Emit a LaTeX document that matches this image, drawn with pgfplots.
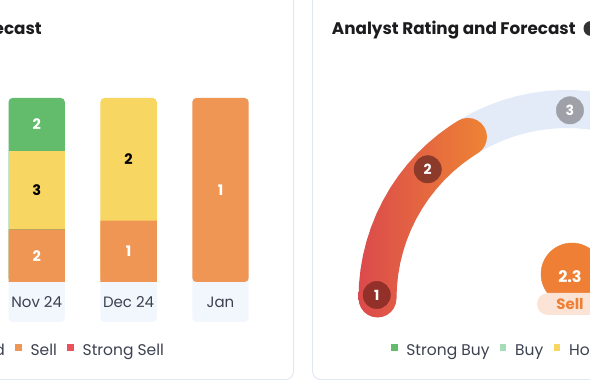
\documentclass[border=0pt]{standalone}
\usepackage{fontspec}
\setmainfont{Poppins}
\usepackage{pgfplots}
\pgfplotsset{compat=1.18}
\definecolor{cgreen}{HTML}{62BC6B}
\definecolor{clgreen}{HTML}{A6DDB7}
\definecolor{cyellow}{HTML}{F8D662}
\definecolor{corange}{HTML}{F09655}
\definecolor{cred}{HTML}{E9525A}
\definecolor{clabel}{HTML}{F2F6FD}
\definecolor{cborder}{HTML}{E1E8F4}
\definecolor{ctrack}{HTML}{E3EAF8}
\definecolor{cgA}{HTML}{DB4A4C}
\definecolor{cgB}{HTML}{EE8434}
\definecolor{cone}{HTML}{923029}
\definecolor{ctwo}{HTML}{8C3A2A}
\definecolor{cthree}{HTML}{9EA1A8}
\definecolor{cbig}{HTML}{EE7F35}
\definecolor{cpill}{HTML}{FBE4D5}
\definecolor{ctext}{HTML}{3C4150}
\definecolor{ctitle}{HTML}{1C1C1E}
\pgfplotsset{
  barax/.style={at={(-9.25pt,58pt)}, anchor=south west, scale only axis,
    width=275.7pt, height=224pt, xmin=-0.5, xmax=2.5, ymin=0, ymax=121.74, clip=false},
  mylegend/.style={legend columns=-1, legend cell align=left,
    legend image code/.code={\fill[##1, draw=none] (0pt,4.5pt) rectangle (6.7pt,11.2pt); \path (0pt,0pt) (15.3pt,0pt);},
    legend style={draw=none, fill=none, inner sep=0pt, outer sep=0pt,
      font=\fontsize{15.5}{18}\selectfont, text=ctext,
      nodes={inner sep=0pt, text height=11pt, text depth=4pt},
      cells={anchor=base west},
      /tikz/every even column/.append style={column sep=10pt}}},
  seglab/.style={only marks, mark=none, nodes near coords, point meta=explicit symbolic, forget plot,
    every node near coord/.append style={anchor=center, font=\bfseries\fontsize{14.5}{16}\selectfont}},
  gaugelab/.style={every node near coord/.append style={anchor=center, text=white, font=\bfseries\fontsize{14}{16}\selectfont}},
}
\begin{document}
\begin{tikzpicture}
\path[use as bounding box] (0pt,0pt) rectangle (590pt,380pt);
% panel frames
\draw[cborder, line width=1pt, rounded corners=8pt] (-60pt,0.4pt) rectangle (293.5pt,450pt);
\draw[cborder, line width=1pt, rounded corners=8pt] (312.7pt,0.4pt) rectangle (700pt,450pt);
% titles
\node[anchor=base east, inner sep=0pt, text=ctitle, font=\bfseries\fontsize{16.8}{20}\selectfont] at (42pt,345pt) {Rating Forecast};
\node[anchor=base west, inner sep=0pt, text=ctitle, font=\bfseries\fontsize{16.8}{20}\selectfont] at (331.7pt,345pt) {Analyst Rating and Forecast};
\fill[ctitle!90] (591pt,351.5pt) circle (7.5pt);

% ---- left chart: layer 1 (label boxes / rounded outline)
\begin{axis}[barax, hide axis]
\addplot[ybar, bar width=56.3pt, bar shift=0pt, fill=clabel, draw=none, rounded corners=4pt]
  coordinates {(0,121.74) (1,121.74) (2,121.74)};
\end{axis}
% layer 2: top segment colours, rounded
\begin{axis}[barax, hide axis, ybar stacked, bar width=56.3pt]
\addplot[draw=none, fill=none] coordinates {(0,21.74) (1,21.74) (2,21.74)};
\addplot[fill=cgreen, draw=none, rounded corners=4pt] coordinates {(0,100) (1,0) (2,0)};
\addplot[fill=cyellow, draw=none, rounded corners=4pt] coordinates {(0,0) (1,100) (2,0)};
\addplot[fill=corange, draw=none, rounded corners=4pt] coordinates {(0,0) (1,0) (2,100)};
\end{axis}
% layer 3: lower segments (percent of ratings: Sell, Hold)
\begin{axis}[barax, hide axis, ybar stacked, bar width=56.3pt]
\addplot[draw=none, fill=none] coordinates {(0,21.74) (1,21.74) (2,21.74)};
\addplot[fill=corange, draw=none] coordinates {(0,28.57) (1,33.33) (2,0)};
\addplot[fill=cyellow, draw=none] coordinates {(0,42.86) (1,0) (2,0)};
\end{axis}
% layer 4: counts, month labels, legend
\begin{axis}[barax, axis line style={draw=none}, tick style={draw=none}, ytick=\empty,
  xtick={0,1,2}, xticklabels={Nov 24,Dec 24,Jan},
  x tick label style={anchor=center, yshift=20pt, font=\fontsize{15}{18}\selectfont, text=ctext},
  mylegend, legend style={at={(0.6284,-0.1339)}, anchor=east}]
\addlegendimage{fill=cgreen}\addlegendentry{Strong Buy}
\addlegendimage{fill=clgreen}\addlegendentry{Buy}
\addlegendimage{fill=cyellow}\addlegendentry{Hold}
\addlegendimage{fill=corange}\addlegendentry{Sell}
\addlegendimage{fill=cred}\addlegendentry{Strong Sell}
\addplot[seglab, every node near coord/.append style={text=white}]
  coordinates {(0,36.03)[2] (0,107.46)[2] (1,38.41)[1] (2,71.74)[1]};
\addplot[seglab, every node near coord/.append style={text=black}]
  coordinates {(0,71.74)[3] (1,88.41)[2]};
\end{axis}

% ---- right: gauge
\begin{axis}[at={(347pt,41.5pt)}, anchor=south west, x=1pt, y=1pt,
  xmin=-220, xmax=220, ymin=-40, ymax=220, hide axis, clip=false,
  mylegend, legend style={at={(0.0993,-0.0519)}, anchor=west}]
\addlegendimage{fill=cgreen}\addlegendentry{Strong Buy}
\addlegendimage{fill=clgreen}\addlegendentry{Buy}
\addlegendimage{fill=cyellow}\addlegendentry{Hold}
\addlegendimage{fill=corange}\addlegendentry{Sell}
\addlegendimage{fill=cred}\addlegendentry{Strong Sell}
% track
\addplot[data cs=polar, ctrack, line width=38pt, line join=round, forget plot] coordinates {
(180,189.5) (176,189.5) (172,189.5) (168,189.5) (164,189.5) (160,189.5) (156,189.5) (152,189.5)
(148,189.5) (144,189.5) (140,189.5) (136,189.5) (132,189.5) (128,189.5) (124,189.5) (120,189.5)
(116,189.5) (112,189.5) (108,189.5) (104,189.5) (100,189.5) (96,189.5) (92,189.5) (88,189.5)
(84,189.5) (80,189.5) (76,189.5) (72,189.5) (68,189.5) (64,189.5) (60,189.5) (56,189.5)
(52,189.5) (48,189.5) (44,189.5) (40,189.5) (36,189.5) (32,189.5) (28,189.5) (24,189.5)
(20,189.5) (16,189.5) (12,189.5) (8,189.5) (4,189.5) (0,189.5)};
% rating band from 1 (180 deg) to 2.3 (121.5 deg) with round ends, shaded left to right
\addplot[data cs=polar, draw=none, left color=cgA, right color=cgB, forget plot] coordinates {
(180,208.5) (176,208.5) (172,208.5) (168,208.5) (164,208.5) (160,208.5) (156,208.5) (152,208.5)
(148,208.5) (144,208.5) (140,208.5) (136,208.5) (132,208.5) (128,208.5) (124,208.5) (121.5,208.5)
(120.14,207.91) (118.86,206.17) (117.71,203.37) (116.77,199.68) (116.11,195.28) (115.78,190.45)
(115.82,185.49) (116.28,180.75) (117.14,176.58) (118.36,173.31) (119.85,171.22)
(121.5,170.5) (124,170.5) (128,170.5) (132,170.5) (136,170.5) (140,170.5) (144,170.5) (148,170.5)
(152,170.5) (156,170.5) (160,170.5) (164,170.5) (168,170.5) (172,170.5) (176,170.5) (180,170.5)
(181.65,171.22) (183.14,173.31) (184.36,176.58) (185.22,180.75) (185.68,185.49) (185.73,190.45)
(185.39,195.28) (184.73,199.68) (183.79,203.37) (182.64,206.17) (181.36,207.91)};
% scale points 1, 2, 3
\addplot[data cs=polar, only marks, mark=*, mark size=13.7pt, color=cone,
  nodes near coords={1}, gaugelab, forget plot] coordinates {(178.95,190.3)};
\addplot[data cs=polar, only marks, mark=*, mark size=13.7pt, color=ctwo,
  nodes near coords={2}, gaugelab, forget plot] coordinates {(137.15,190.0)};
\addplot[data cs=polar, only marks, mark=*, mark size=13.7pt, color=cthree,
  nodes near coords={3}, gaugelab, forget plot] coordinates {(89.1,188.2)};
% current rating
\addplot[only marks, mark=*, mark size=31pt, color=cbig, forget plot]
  coordinates {(5,24.5)};
\addplot[only marks, mark=none, nodes near coords={2.3}, forget plot,
  every node near coord/.append style={anchor=center, text=white, font=\bfseries\fontsize{16}{18}\selectfont}]
  coordinates {(3,21.5)};
\addplot[only marks, mark=none, nodes near coords={Sell}, forget plot,
  every node near coord/.append style={anchor=center, fill=cpill, rounded corners=11pt,
    minimum width=66pt, minimum height=22pt, inner sep=0pt, text=cbig,
    font=\bfseries\fontsize{15}{18}\selectfont}]
  coordinates {(3,-5.5)};
\end{axis}
\end{tikzpicture}
\end{document}
